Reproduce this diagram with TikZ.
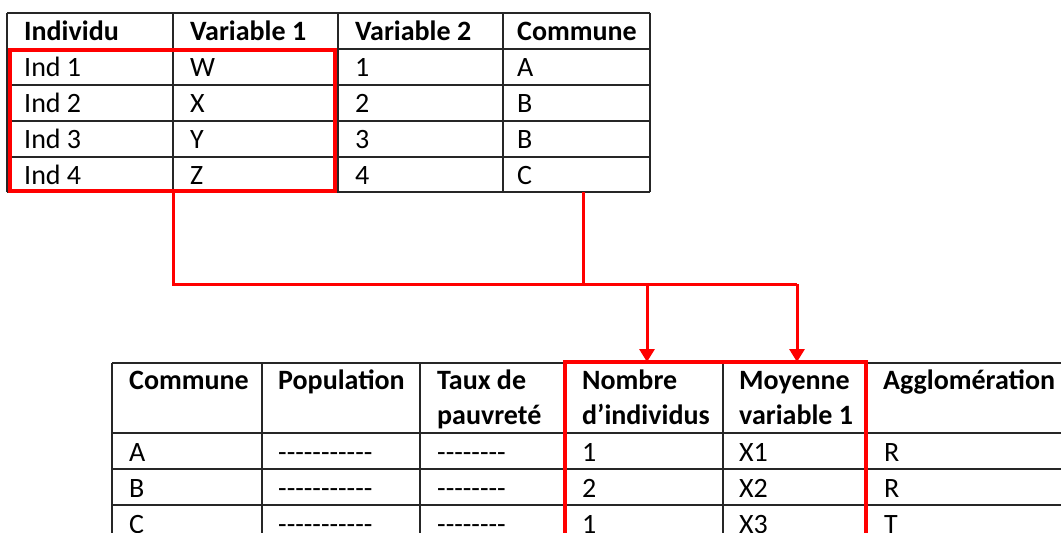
\documentclass[tikz,border=0pt]{standalone}
\usepackage{fontspec}
\setmainfont{Carlito}
\usetikzlibrary{arrows.meta}
\newcommand\hy{-\kern0pt}
\begin{document}
\begin{tikzpicture}[x=1pt,y=-1pt,
  grid/.style={draw=black!85, line width=1.1pt},
  hlbox/.style={draw=red, line width=4pt},
  conn/.style={draw=red, line width=3pt},
  arr/.style={conn, -{Triangle[length=13pt,width=15pt]}},
  cell/.style={anchor=base west, inner sep=0pt, font=\fontsize{28}{35}\selectfont},
  hcell/.style={cell, font=\fontsize{28}{35}\selectfont\bfseries}]
\clip (0,0) rectangle (1061,533);
\fill[white] (0,0) rectangle (1061,533);
% ---------- top table ----------
\foreach \y in {13,49,85,121,157,192} \draw[grid] (7,\y) -- (650,\y);
\foreach \x in {7,173,338,503,650} \draw[grid] (\x,13) -- (\x,192);
\node[hcell] (h1) at (24,40) {Individu};
\node[hcell] (h2) at (190,40) {Variable 1};
\node[hcell] (h3) at (355,40) {Variable 2};
\node[hcell] (h4) at (517,40) {Commune};
\foreach \i/\v/\n/\c [count=\k] in {1/W/1/A,2/X/2/B,3/Y/3/B,4/Z/4/C}{
  \node[cell] (ti\k) at (24,40+36*\k) {Ind \i};
  \node[cell] (tv\k) at (190,40+36*\k) {\v};
  \node[cell] (tn\k) at (355,40+36*\k) {\n};
  \node[cell] (tc\k) at (517,40+36*\k) {\c};
}
% ---------- bottom table ----------
\foreach \y in {363,433,469,505,541} \draw[grid] (112,\y) -- (1070,\y);
\foreach \x in {112,262,420,565,723,866} \draw[grid] (\x,363) -- (\x,560);
\node[hcell] (b1) at (129,389) {Commune};
\node[hcell] (b2) at (278,389) {Population};
\node[hcell] (b3a) at (437,389) {Taux de};
\node[hcell] (b3b) at (437,424) {pauvreté};
\node[hcell] (b4a) at (582,389) {Nombre};
\node[hcell] (b4b) at (582,424) {d’individus};
\node[hcell] (b5a) at (739,389) {Moyenne};
\node[hcell] (b5b) at (739,424) {variable 1};
\node[hcell] (b6) at (883,389) {Agglomération};
\foreach \c/\n/\x/\a [count=\k] in {A/1/X1/R,B/2/X2/R,C/1/X3/T}{
  \node[cell] (bc\k) at (129,425+36*\k) {\c};
  \node[cell] (bp\k) at (278,425+36*\k) {\hy\hy\hy\hy\hy\hy\hy\hy\hy\hy\hy};
  \node[cell] (bt\k) at (437,425+36*\k) {\hy\hy\hy\hy\hy\hy\hy\hy};
  \node[cell] (bn\k) at (582,425+36*\k) {\n};
  \node[cell] (bm\k) at (739,425+36*\k) {\x};
  \node[cell] (ba\k) at (884,425+36*\k) {\a};
}
% ---------- highlight boxes ----------
\draw[hlbox] (10,49.5) rectangle (335,191);
\draw[hlbox] (565,362) rectangle (866,580);
% ---------- connectors ----------
\coordinate (s1) at (173,191);
\coordinate (s2) at (583,192);
\coordinate (j1) at (173,284);
\coordinate (j2) at (583,284);
\coordinate (k1) at (647,284);
\coordinate (k2) at (797,284);
\coordinate (t1) at (647,362);
\coordinate (t2) at (797,362);
\draw[conn] (s1) -- (j1) -- (k2);
\draw[conn] (s2) -- (j2);
\draw[arr] (k2) -- (t2);
\draw[arr] (k1) -- (t1);
\end{tikzpicture}
\end{document}
